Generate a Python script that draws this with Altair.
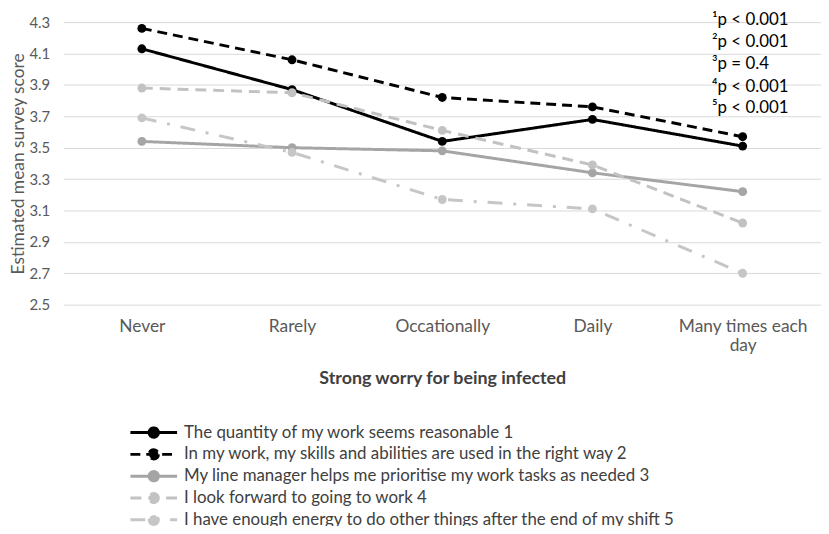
import altair as alt
import pandas as pd

categories = ["Never", "Rarely", "Occationally", "Daily", "Many times each day"]
series_names = [
    "The quantity of my work seems reasonable 1",
    "In my work, my skills and abilities are used in the right way 2",
    "My line manager helps me prioritise my work tasks as needed 3",
    "I look forward to going to work 4",
    "I have enough energy to do other things after the end of my shift 5",
]
s1 = [4.13, 3.87, 3.54, 3.68, 3.51]
s2 = [4.26, 4.06, 3.82, 3.76, 3.57]
s3 = [3.54, 3.50, 3.48, 3.34, 3.22]
s4 = [3.88, 3.85, 3.61, 3.39, 3.02]
s5 = [3.69, 3.47, 3.17, 3.11, 2.70]
y_ticks = [2.5, 2.7, 2.9, 3.1, 3.3, 3.5, 3.7, 3.9, 4.1, 4.3]
p_labels = ["¹p < 0.001", "²p < 0.001", "³p = 0.4", "⁴p < 0.001", "⁵p < 0.001"]
p_ypos = [4.313, 4.174, 4.035, 3.889, 3.75]

colors = ["#000000", "#000000", "#a5a5a5", "#c2c2c2", "#c6c6c6"]
dashes = [[1, 0], [10, 6], [1, 0], [11, 7], [15, 11, 3, 11]]

rows = []
for name, vals in zip(series_names, [s1, s2, s3, s4, s5]):
    for c, v in zip(categories, vals):
        rows.append({"category": c, "value": v, "series": name})
df = pd.DataFrame(rows)
df_p = pd.DataFrame({"label": p_labels, "value": p_ypos})

FONT = "Lato"
GRAY = "#595959"

legend = alt.Legend(
    title=None,
    orient="none",
    legendX=80,
    legendY=403,
    symbolType="M-2.61,0H2.61M0.52,0A0.52,0.52,0,1,1,-0.52,0A0.52,0.52,0,1,1,0.52,0Z",
    symbolSize=325,
    symbolStrokeWidth=3,
    labelFont=FONT,
    labelFontSize=17,
    labelColor="#404040",
    labelLimit=800,
    labelOffset=19.5,
    rowPadding=0,
)

base = alt.Chart(df).encode(
    x=alt.X(
        "category:N",
        sort=categories,
        scale=alt.Scale(type="point", padding=0.5215),
        axis=alt.Axis(
            title="Strong worry for being infected",
            titleFont=FONT,
            titleFontSize=18,
            titleFontWeight="bold",
            titleColor="#404040",
            titlePadding=16,
            labelFont=FONT,
            labelFontSize=17.5,
            labelColor=GRAY,
            labelAngle=0,
            labelPadding=13,
            labelExpr="datum.label == 'Many times each day' ? ['Many times each', 'day'] : datum.label",
            ticks=False,
            tickSize=0,
            domain=False,
            grid=False,
        ),
    ),
    y=alt.Y(
        "value:Q",
        scale=alt.Scale(domain=[2.5, 4.3], nice=False, zero=False),
        axis=alt.Axis(
            title="Estimated mean survey score",
            titleFont=FONT,
            titleFontSize=17.5,
            titleFontWeight="normal",
            titleColor=GRAY,
            titlePadding=1,
            values=y_ticks,
            tickCount=len(y_ticks),
            labelOverlap=False,
            format=".1f",
            labelFont=FONT,
            labelFontSize=15,
            labelColor=GRAY,
            labelPadding=14,
            ticks=False,
            tickSize=0,
            domain=False,
            grid=True,
            gridColor="#d9d9d9",
            gridWidth=1,
        ),
    ),
    color=alt.Color(
        "series:N",
        sort=series_names,
        scale=alt.Scale(domain=series_names, range=colors),
        legend=legend,
    ),
    strokeDash=alt.StrokeDash(
        "series:N",
        sort=series_names,
        scale=alt.Scale(domain=series_names, range=dashes),
        legend=legend,
    ),
)

lines = base.mark_line(
    strokeWidth=3,
    point=alt.OverlayMarkDef(filled=True, size=80, opacity=1),
)

ptext = alt.Chart(df_p).mark_text(
    align="left", baseline="middle", font=FONT, fontSize=17, color="#000000"
).encode(
    x=alt.value(654),
    y=alt.Y("value:Q"),
    text="label:N",
)

chart = (
    alt.layer(lines, ptext)
    .properties(
        width=764,
        height=285,
        autosize=alt.AutoSizeParams(type="none"),
        padding={"left": 56, "top": 12, "right": 0, "bottom": 221},
    )
    .configure_view(stroke=None)
)

chart.save("out.html", embed_options={"renderer": "svg", "actions": False})
